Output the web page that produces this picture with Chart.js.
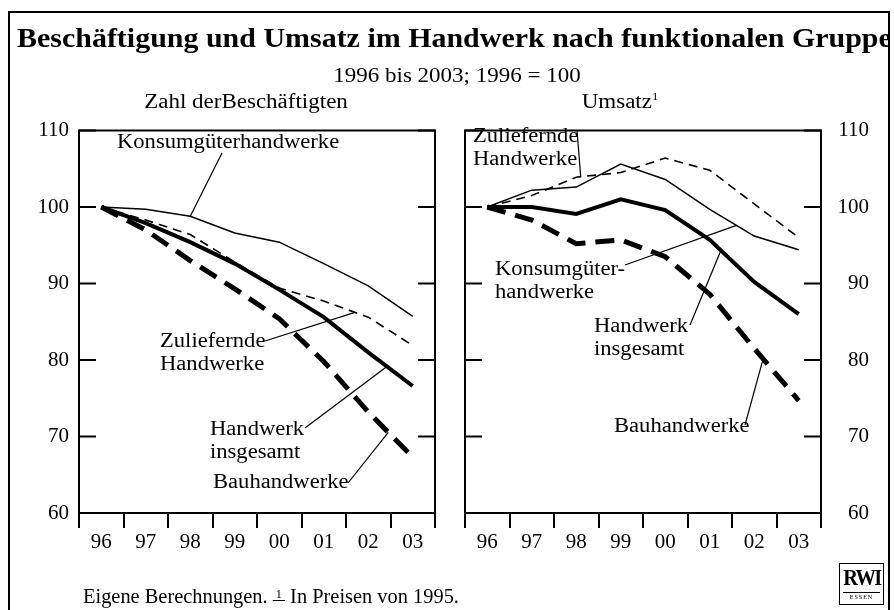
<!DOCTYPE html>
<html>
<head>
<meta charset="utf-8">
<script src="https://cdn.jsdelivr.net/npm/chart.js@4.4.1/dist/chart.umd.min.js"></script>
<style>
  html, body { margin: 0; padding: 0; background: #fff; }
  #page { position: relative; width: 894px; height: 610px; overflow: hidden; font-family: "Liberation Serif", "Times New Roman", serif; color: #000; }
  #frame { position: absolute; left: 8px; top: 11px; width: 878px; height: 660px; border: 2px solid #000; overflow: hidden; }
  canvas { position: absolute; top: 110px; }
  #cLeft { left: 0; }
  #cRight { left: 450px; }
  .txt { position: absolute; white-space: nowrap; line-height: 1; }
  #title { left: 7px; top: 11px; font-size: 28px; font-weight: bold; transform: scaleX(1.07); transform-origin: left top; }
  .mid { font-size: 20px; transform: translate(-50%, -50%) scaleX(1.15); }
  #sub { left: 457px; top: 75px; }
  #leftHead { left: 246px; top: 101px; }
  #rightHead { left: 620px; top: 101px; }
  #rightHead sup { font-size: 11px; vertical-align: 8px; line-height: 0; }
  #foot { left: 83px; top: 596px; font-size: 20px; transform: translateY(-50%) scaleX(1.02); transform-origin: left center; }
  #foot .fn { display: inline-block; font-size: 12px; line-height: 1; border-bottom: 1px solid #000; vertical-align: 5px; padding: 0 3px; }
  #logo { position: absolute; left: 839px; top: 563px; width: 43px; height: 40px; border: 1px solid #000; text-align: center; }
  #logo .big { font-size: 24px; font-weight: bold; line-height: 26px; letter-spacing: -2px; transform: scaleX(0.85); }
  #logo .small { font-size: 6px; line-height: 8px; letter-spacing: 1px; border-top: 1px solid #000; margin: 2px 3px 0 3px; }
</style>
</head>
<body>
<div id="page">
  <canvas id="cLeft" width="450" height="450"></canvas>
  <canvas id="cRight" width="444" height="450"></canvas>
  <div id="frame">
    <div class="txt" id="title">Beschäftigung und Umsatz im Handwerk nach funktionalen Gruppe</div>
  </div>
  <div class="txt mid" id="sub">1996 bis 2003; 1996 = 100</div>
  <div class="txt mid" id="leftHead">Zahl derBeschäftigten</div>
  <div class="txt mid" id="rightHead">Umsatz<sup>1</sup></div>
  <div class="txt" id="foot">Eigene Berechnungen. <span class="fn">1</span> In Preisen von 1995.</div>
  <div id="logo"><div class="big">RWI</div><div class="small">ESSEN</div></div>
</div>
<script>
var years = ['96', '97', '98', '99', '00', '01', '02', '03'];

// Zahl der Beschäftigten, 1996 = 100
var empKonsum = [100, 99.7, 98.8, 96.6, 95.4, 92.6, 89.7, 85.7];
var empZulief = [100, 98.3, 96.4, 92.8, 89.4, 87.7, 85.6, 81.9];
var empGesamt = [100, 97.9, 95.4, 92.6, 89.2, 85.6, 81.0, 76.6];
var empBau    = [100, 97.0, 93.0, 89.3, 85.4, 79.8, 73.2, 67.3];

// Umsatz in Preisen von 1995, 1996 = 100
var revKonsum = [100, 102.2, 102.6, 105.6, 103.6, 99.7, 96.2, 94.4];
var revZulief = [100, 101.5, 103.9, 104.5, 106.4, 104.8, 100.4, 96.0];
var revGesamt = [100, 100.0, 99.1, 101.0, 99.6, 95.7, 90.2, 86.0];
var revBau    = [100, 98.3, 95.2, 95.7, 93.5, 88.6, 81.5, 74.7];

var yMin = 60, yMax = 110, yStep = 10;

var tickFont = {family: 'Liberation Serif', size: 21, lineHeight: 1};

// dataset order: 0 gesamt, 1 bau, 2 zuliefernde, 3 konsum
function makeSets(konsum, zulief, gesamt, bau){
    return [
        {data: gesamt, borderWidth: 4},
        {data: bau, borderWidth: 5, borderDash: [19, 10]},
        {data: zulief, borderWidth: 1.6, borderDash: [9, 6]},
        {data: konsum, borderWidth: 1.5}
    ];
}

// point on a series at a fractional category index, via the chart scales
function seriesPoint(chart, set, at){
    var xs = chart.scales.x, ys = chart.scales.y;
    var data = chart.data.datasets[set].data;
    var i = Math.min(Math.floor(at), data.length - 2);
    var f = at - i;
    var x0 = xs.getPixelForValue(i), x1 = xs.getPixelForValue(i + 1);
    var v = data[i] + f * (data[i + 1] - data[i]);
    return [x0 + f * (x1 - x0), ys.getPixelForValue(v)];
}

var boxAndNotes = {
    id: 'boxAndNotes',
    afterDatasetsDraw: function(chart){
        var ctx = chart.ctx, a = chart.chartArea, y = chart.scales.y;
        ctx.save();
        ctx.strokeStyle = '#000';
        ctx.lineWidth = 2;
        ctx.strokeRect(a.left, a.top, a.right - a.left, a.bottom - a.top);
        ctx.beginPath();
        y.ticks.forEach(function(t){
            var py = y.getPixelForValue(t.value);
            ctx.moveTo(a.left, py); ctx.lineTo(a.left + 17, py);
            ctx.moveTo(a.right, py); ctx.lineTo(a.right - 17, py);
        });
        ctx.stroke();

        var notes = chart.options.plugins.boxAndNotes.notes;
        ctx.lineWidth = 1.2;
        ctx.fillStyle = '#000';
        ctx.font = '20px "Liberation Serif"';
        ctx.textBaseline = 'middle';
        notes.forEach(function(n){
            var p = seriesPoint(chart, n.set, n.at);
            ctx.beginPath();
            ctx.moveTo(n.from[0], n.from[1]);
            ctx.lineTo(p[0], p[1]);
            ctx.stroke();
            n.lines.forEach(function(s, i){
                ctx.save();
                ctx.translate(n.x, n.y + i * 23);
                ctx.scale(1.13, 1);
                ctx.fillText(s, 0, 0);
                ctx.restore();
            });
        });
        ctx.restore();
    }
};

function makeChart(id, sets, side, padding, yWidth, notes){
    return new Chart(document.getElementById(id), {
        type: 'line',
        data: {labels: years, datasets: sets},
        options: {
            responsive: false,
            animation: false,
            layout: {padding: padding},
            plugins: {
                legend: {display: false},
                tooltip: {enabled: false},
                boxAndNotes: {notes: notes}
            },
            elements: {
                line: {borderColor: '#000', tension: 0, fill: false},
                point: {radius: 0}
            },
            scales: {
                x: {
                    offset: true,
                    grid: {offset: true, drawOnChartArea: false, drawTicks: true, tickLength: 15, color: '#000', lineWidth: 2},
                    border: {display: false},
                    ticks: {color: '#000', font: tickFont, padding: 4, maxRotation: 0, autoSkip: false},
                    afterFit: function(s){ s.height = 47; }
                },
                y: {
                    position: side,
                    min: yMin,
                    max: yMax,
                    grid: {display: false, drawTicks: false},
                    border: {display: false},
                    ticks: {stepSize: yStep, color: '#000', font: tickFont, padding: 10,
                            crossAlign: side == 'right' ? 'far' : 'near'},
                    afterFit: function(s){ s.width = yWidth; }
                }
            }
        },
        plugins: [boxAndNotes]
    });
}

var leftNotes = [
    {lines: ['Konsumgüterhandwerke'], x: 117, y: 33, from: [222, 43], set: 3, at: 2},
    {lines: ['Zuliefernde', 'Handwerke'], x: 160, y: 232, from: [265, 231], set: 2, at: 5.7},
    {lines: ['Handwerk', 'insgesamt'], x: 210, y: 320, from: [305, 318], set: 0, at: 6.42},
    {lines: ['Bauhandwerke'], x: 213, y: 373, from: [348, 373], set: 1, at: 6.45}
];

var rightNotes = [
    {lines: ['Zuliefernde', 'Handwerke'], x: 23, y: 27, from: [127, 20], set: 2, at: 2.1},
    {lines: ['Konsumgüter-', 'handwerke'], x: 45, y: 160, from: [175, 155], set: 3, at: 5.6},
    {lines: ['Handwerk', 'insgesamt'], x: 144, y: 217, from: [240, 215], set: 0, at: 5.25},
    {lines: ['Bauhandwerke'], x: 164, y: 317, from: [295, 315], set: 1, at: 6.2}
];

makeChart('cLeft', makeSets(empKonsum, empZulief, empGesamt, empBau), 'left',
    {left: 0, right: 15, top: 12, bottom: 0}, 79, leftNotes);
makeChart('cRight', makeSets(revKonsum, revZulief, revGesamt, revBau), 'right',
    {left: 15, right: 25, top: 12, bottom: 0}, 48, rightNotes);
</script>
</body>
</html>
